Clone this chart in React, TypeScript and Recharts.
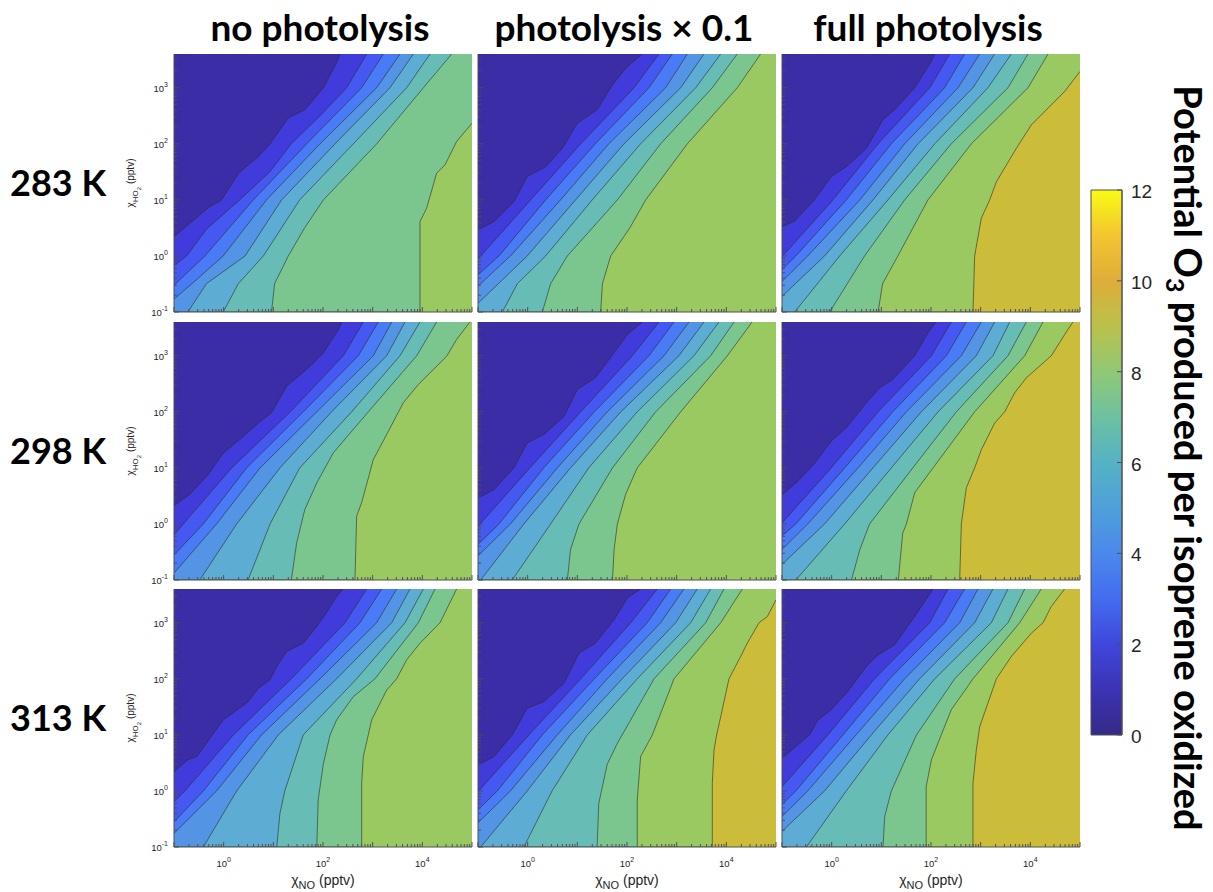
import React from "react";
import { ComposedChart, Area, XAxis, YAxis, BarChart, Bar } from "recharts";

type Bound = [number, number][];

// axes: NO mixing ratio (x) and HO2 mixing ratio (y), both in pptv
const X_DOMAIN = [0.1, 100000];
const Y_DOMAIN = [0.1, 4000];
const X_DECADES = [0.1, 1, 10, 100, 1000, 10000, 100000];
const Y_DECADES = [0.1, 1, 10, 100, 1000];
const X_LABELED = [1, 100, 10000];
const Y_LABELED = [0.1, 1, 10, 100, 1000];

const TEMPS = ["283 K", "298 K", "313 K"];
const CASES = ["no photolysis", "photolysis × 0.1", "full photolysis"];

// fill colour of each 1-unit band (0-1, 1-2, ... 9-10)
const BAND_COLORS = [
  "#3A2DA5", "#413BDB", "#4658F2", "#4A7BF6", "#5395E4",
  "#5DACD4", "#67BDB6", "#7AC68E", "#9AC962", "#CBBC3A",
];

const CBAR_TICKS = [0, 2, 4, 6, 8, 10, 12];
const CBAR_STOPS = [
  "#352A87", "#3B33B5", "#3F47DC", "#436CF0", "#4B88EC", "#4FA0DA", "#55B2C4",
  "#6DC1A1", "#91C875", "#BAC14C", "#DEAD3A", "#F3C530", "#F9FB15",
];
const CBAR_DATA = [{ name: "O3", v: 12 }];

// contour boundaries, level 1, 2, 3 ... ; points are [NO, HO2]
const T283_NONE: Bound[] = [
  [[0.1, 2.2], [0.5, 7.3], [0.91, 10], [2, 30], [5, 59], [8.6, 100], [20, 290], [43, 404], [102, 1000], [190, 2870], [220, 4000]],
  [[0.1, 0.67], [0.18, 1], [0.45, 3], [2.1, 10], [8.6, 32], [23, 100], [87, 316], [300, 1000], [760, 4000]],
  [[0.1, 0.3], [0.42, 1], [3.95, 10], [47, 100], [600, 1000], [1640, 4000]],
  [[0.1, 0.17], [0.23, 0.32], [0.98, 1], [7.3, 10], [87, 100], [1205, 1000], [3550, 4000]],
  [[0.1, 0.1], [0.19, 0.1], [0.45, 0.32], [2.7, 1], [14.7, 10], [175, 100], [2230, 1000], [6600, 4000]],
  [[0.1, 0.1], [0.98, 0.1], [1.97, 0.32], [6.3, 1], [34, 10], [408, 100], [4840, 1000], [14300, 4000]],
  [[0.1, 0.1], [9.2, 0.1], [10.6, 0.32], [20, 1], [43, 3.2], [102, 10], [1205, 100], [10500, 1000], [39000, 4000]],
  [[0.1, 0.1], [8970, 0.1], [8970, 4.1], [12200, 7.1], [19400, 30], [28600, 42], [49000, 110], [100000, 233]],
];

const T283_TENTH: Bound[] = [
  [[0.1, 2.9], [0.21, 4.1], [0.53, 9.3], [0.98, 26], [2.3, 39], [5, 83], [10, 233], [25, 404], [51, 1128], [102, 2400], [204, 4000]],
  [[0.1, 0.91], [0.113, 1], [1.15, 10], [11.7, 100], [139, 1000], [440, 4000]],
  [[0.1, 0.46], [0.265, 1], [2.3, 10], [23, 100], [277, 1000], [818, 4000]],
  [[0.1, 0.29], [0.45, 1], [4.6, 10], [43, 100], [600, 1000], [1640, 4000]],
  [[0.1, 0.143], [0.98, 1], [9.2, 10], [87, 100], [1205, 1000], [3550, 4000]],
  [[0.1, 0.1], [0.31, 0.1], [0.62, 0.32], [2.3, 1], [20, 10], [188, 100], [2420, 1000], [7700, 4000]],
  [[0.1, 0.1], [1.97, 0.1], [2.9, 0.32], [6.3, 1], [64, 10], [476, 100], [5220, 1000], [16600, 4000]],
  [[0.1, 0.1], [29.5, 0.1], [32, 0.32], [47, 1], [115, 3.2], [238, 10], [1640, 100], [16600, 1000], [49000, 4000]],
];

const T283_FULL: Bound[] = [
  [[0.1, 3.3], [0.18, 4.2], [0.45, 10], [0.98, 26], [1.97, 39], [5, 83], [10.8, 270], [18.5, 404], [47, 1000], [102, 2960], [119, 4000]],
  [[0.1, 0.97], [1.06, 10], [8.6, 100], [94, 1000], [238, 4000]],
  [[0.1, 0.57], [0.19, 1], [1.97, 10], [15.9, 100], [188, 1000], [476, 4000]],
  [[0.1, 0.35], [0.33, 1], [3.7, 10], [29.5, 100], [350, 1000], [955, 4000]],
  [[0.1, 0.19], [0.72, 1], [6.8, 10], [55, 100], [700, 1000], [1914, 4000]],
  [[0.1, 0.1], [0.18, 0.1], [1.45, 1], [13.6, 10], [119, 100], [1400, 1000], [4140, 4000]],
  [[0.1, 0.1], [0.91, 0.1], [4.6, 1], [29.5, 10], [256, 100], [3550, 1000], [8970, 4000]],
  [[0.1, 0.1], [8.6, 0.1], [10.6, 0.32], [21.5, 1], [87, 10], [649, 100], [8970, 1000], [22700, 4000]],
  [[0.1, 0.1], [700, 0.1], [757, 1], [1030, 4.7], [1520, 10], [2070, 21], [5220, 83], [10500, 218], [49000, 857], [100000, 1950]],
];

const T298_NONE: Bound[] = [
  [[0.1, 2.1], [0.21, 3.4], [0.49, 7.6], [0.98, 18.5], [2.1, 32], [5, 63], [9.2, 96], [18.5, 286], [51, 610], [102, 1128], [204, 2940], [238, 4000]],
  [[0.1, 0.64], [0.154, 1], [1.45, 10], [22, 100], [256, 1000], [649, 4000]],
  [[0.1, 0.28], [0.39, 1], [2.9, 10], [40, 100], [514, 1000], [1300, 4000]],
  [[0.1, 0.133], [0.72, 1], [5.4, 10], [75, 100], [1030, 1000], [2420, 4000]],
  [[0.1, 0.1], [0.33, 0.1], [1.83, 1], [13.6, 10], [149, 100], [1914, 1000], [4480, 4000]],
  [[0.1, 0.1], [3.1, 0.1], [8.6, 1], [34, 10], [378, 100], [3550, 1000], [8970, 4000]],
  [[0.1, 0.1], [23, 0.1], [29.5, 0.46], [43, 1.8], [75, 5.4], [161, 18.5], [818, 100], [7700, 1000], [19400, 4000]],
  [[0.1, 0.1], [440, 0.1], [476, 1.37], [600, 2.4], [1030, 14], [2070, 45], [4140, 145], [8300, 307], [31000, 984], [49000, 1950], [91000, 4000]],
];

const T298_TENTH: Bound[] = [
  [[0.1, 2.9], [0.21, 4.1], [0.53, 10], [0.98, 28], [2.1, 39], [5.4, 83], [10, 250], [23, 404], [55, 1128], [102, 2400], [204, 4000]],
  [[0.1, 0.91], [1.11, 10], [11.7, 100], [128, 1000], [440, 4000]],
  [[0.1, 0.43], [0.265, 1], [2.1, 10], [22, 100], [277, 1000], [884, 4000]],
  [[0.1, 0.27], [0.45, 1], [3.95, 10], [40, 100], [556, 1000], [1770, 4000]],
  [[0.1, 0.1], [0.113, 0.1], [0.84, 1], [7.3, 10], [75, 100], [1110, 1000], [3550, 4000]],
  [[0.1, 0.1], [0.49, 0.1], [2.9, 1], [17, 10], [161, 100], [2230, 1000], [7100, 4000]],
  [[0.1, 0.1], [6.3, 0.1], [7.3, 0.35], [10.8, 1], [51, 10], [378, 100], [4840, 1000], [14300, 4000]],
  [[0.1, 0.1], [51, 0.1], [55, 0.35], [64, 1], [94, 3.4], [161, 10], [1205, 100], [10500, 1000], [33000, 4000]],
];

const T298_FULL: Bound[] = [
  [[0.1, 3.3], [0.21, 5.8], [0.45, 12], [0.98, 30], [1.97, 52], [5, 145], [9.2, 267], [17, 377], [47, 1000], [87, 2570], [125, 4000]],
  [[0.1, 1.04], [0.98, 10], [8.6, 100], [102, 1000], [256, 4000]],
  [[0.1, 0.61], [0.19, 1], [1.83, 10], [17, 100], [204, 1000], [514, 4000]],
  [[0.1, 0.35], [0.33, 1], [3.4, 10], [32, 100], [408, 1000], [1030, 4000]],
  [[0.1, 0.19], [0.72, 1], [6.8, 10], [64, 100], [818, 1000], [1914, 4000]],
  [[0.1, 0.1], [0.19, 0.1], [1.83, 1], [15.9, 10], [139, 100], [1770, 1000], [3840, 4000]],
  [[0.1, 0.1], [2.5, 0.1], [3.7, 0.35], [5.8, 1], [43, 10], [324, 100], [3550, 1000], [8300, 4000]],
  [[0.1, 0.1], [22, 0.1], [27, 0.69], [32, 1], [47, 3.6], [110, 10], [757, 100], [7700, 1000], [18000, 4000]],
  [[0.1, 0.1], [378, 0.1], [408, 1], [514, 4.4], [757, 10], [1030, 21], [1914, 63], [3040, 100], [4840, 218], [8300, 404], [26400, 1000], [57000, 2940], [72000, 4000]],
];

const T313_NONE: Bound[] = [
  [[0.1, 2.2], [0.19, 3.6], [0.29, 4.1], [0.53, 8.7], [0.98, 18.5], [2.1, 30], [3.1, 39], [5, 68], [8.6, 96], [11.7, 166], [18.5, 307], [40, 432], [75, 857], [110, 1390], [188, 2940], [256, 4000]],
  [[0.1, 0.64], [0.166, 1], [1.57, 10], [23, 100], [277, 1000], [757, 4000]],
  [[0.1, 0.28], [0.39, 1], [3.1, 10], [47, 100], [556, 1000], [1520, 4000]],
  [[0.1, 0.175], [0.72, 1], [5.8, 10], [87, 100], [1205, 1000], [3040, 4000]],
  [[0.1, 0.1], [0.39, 0.1], [1.83, 1], [12.6, 10], [188, 100], [2420, 1000], [5650, 4000]],
  [[0.1, 0.1], [11.7, 0.1], [13.6, 0.4], [17, 1], [40, 10], [476, 100], [4480, 1000], [10500, 4000]],
  [[0.1, 0.1], [75, 0.1], [80, 0.69], [102, 3.1], [139, 10], [188, 18.5], [408, 48], [1110, 100], [8300, 1000], [18000, 4000]],
  [[0.1, 0.1], [600, 0.1], [600, 1.37], [649, 4.1], [955, 18.5], [1914, 63], [3040, 100], [4840, 218], [8970, 432], [22700, 1000], [49000, 4000]],
];

const T313_TENTH: Bound[] = [
  [[0.1, 2.9], [0.21, 4.1], [0.49, 10], [0.98, 30], [2.1, 39], [5.4, 83], [10.8, 286], [23, 432], [55, 1128], [102, 2770], [188, 4000]],
  [[0.1, 0.97], [1.06, 10], [11.7, 100], [119, 1000], [408, 4000]],
  [[0.1, 0.46], [0.245, 1], [1.97, 10], [22, 100], [256, 1000], [757, 4000]],
  [[0.1, 0.27], [0.45, 1], [3.95, 10], [40, 100], [476, 1000], [1400, 4000]],
  [[0.1, 0.1], [0.113, 0.1], [0.98, 1], [7.3, 10], [80, 100], [955, 1000], [2600, 4000]],
  [[0.1, 0.1], [0.84, 0.1], [3.1, 1], [15.9, 10], [161, 100], [1914, 1000], [4840, 4000]],
  [[0.1, 0.1], [25, 0.1], [27, 0.6], [40, 3], [64, 7.1], [80, 10], [350, 100], [3840, 1000], [8970, 4000]],
  [[0.1, 0.1], [161, 0.1], [161, 0.69], [188, 4.1], [324, 10], [884, 100], [7700, 1000], [21000, 4000]],
  [[0.1, 0.1], [5220, 0.1], [5220, 1.37], [5650, 5.4], [6380, 10], [7700, 21], [11300, 100], [19400, 250], [26400, 432], [45500, 1000], [67000, 1294], [100000, 2570]],
];

const T313_FULL: Bound[] = [
  [[0.1, 3.8], [0.19, 6.2], [0.36, 10], [0.53, 18.5], [0.98, 28], [2.1, 59], [5, 166], [8.6, 267], [18.5, 404], [47, 1294], [102, 3600], [110, 4000]],
  [[0.1, 1.19], [0.84, 10], [7.3, 100], [94, 1000], [220, 4000]],
  [[0.1, 0.57], [0.19, 1], [1.69, 10], [14.7, 100], [188, 1000], [476, 4000]],
  [[0.1, 0.35], [0.33, 1], [3.1, 10], [29.5, 100], [378, 1000], [884, 4000]],
  [[0.1, 0.19], [0.72, 1], [6.3, 10], [59, 100], [757, 1000], [1770, 4000]],
  [[0.1, 0.1], [0.31, 0.1], [1.97, 1], [13.6, 10], [119, 100], [1640, 1000], [3550, 4000]],
  [[0.1, 0.1], [10.8, 0.1], [11.7, 0.35], [15.9, 1], [51, 10], [300, 100], [3550, 1000], [7700, 4000]],
  [[0.1, 0.1], [80, 0.1], [80, 1.19], [102, 3.6], [161, 10], [256, 28], [700, 100], [6100, 1000], [16600, 4000]],
  [[0.1, 0.1], [700, 0.1], [700, 1.37], [818, 5.4], [955, 14], [2070, 100], [4140, 250], [10500, 652], [18000, 1000], [26400, 1950], [49000, 4000]],
];

const PANELS = [
  [T283_NONE, T283_TENTH, T283_FULL],
  [T298_NONE, T298_TENTH, T298_FULL],
  [T313_NONE, T313_TENTH, T313_FULL],
];

// layout
const COL_X = [174, 478, 782];
const ROW_Y = [54, 322, 589];
const PW = 298;
const PH = 258;
const AXW = 40;
const AXH = 30;
const PAD = 2;
const FRAME = "#505050";
const TXT = "#262626";

const minors = (decades: number[], max: number) =>
  decades.flatMap((d) => [2, 3, 4, 5, 6, 7, 8, 9].map((m) => m * d)).filter((v) => v < max);
const X_TICKS = [...X_DECADES, ...minors(X_DECADES, X_DOMAIN[1])].sort((a, b) => a - b);
const Y_TICKS = [...Y_DECADES, ...minors(Y_DECADES, Y_DOMAIN[1])].sort((a, b) => a - b);

function LogTick(props: any) {
  const { x, y, payload, side, show } = props;
  const v: number = payload.value;
  const e = Math.log10(v);
  const decade = Math.abs(e - Math.round(e)) < 1e-6;
  const len = decade ? 5 : 3;
  let seg = [x, y, x, y - len];
  if (side === "top") seg = [x, y, x, y + len];
  if (side === "left") seg = [x, y, x + len, y];
  if (side === "right") seg = [x, y, x - len, y];
  const list = side === "bottom" ? X_LABELED : Y_LABELED;
  const lbl = show && list.some((t) => Math.abs(t - v) < 1e-9);
  const font = { fontFamily: "Liberation Sans, Arial, sans-serif", fill: TXT };
  return (
    <g>
      <line x1={seg[0]} y1={seg[1]} x2={seg[2]} y2={seg[3]} stroke={FRAME} strokeWidth={1} />
      {lbl && side === "bottom" && (
        <text x={x} y={y + 20} textAnchor="middle" fontSize={9.5} {...font}>
          10<tspan dy={-5} fontSize={7}>{Math.round(e)}</tspan>
        </text>
      )}
      {lbl && side === "left" && (
        <text x={x - 6} y={y + 4} textAnchor="end" fontSize={9.5} {...font}>
          10<tspan dy={-5} fontSize={7}>{Math.round(e)}</tspan>
        </text>
      )}
    </g>
  );
}

function Panel({ bounds, col, row }: { bounds: Bound[]; col: number; row: number }) {
  const left = COL_X[col];
  const top = ROW_Y[row];
  const showX = row === 2;
  const showY = col === 0;
  const layers = bounds
    .map((b, i) => ({ level: i + 1, pts: b.map(([x, y]) => ({ x, y })) }))
    .reverse();
  const axisLine = { stroke: FRAME, strokeWidth: 1 };
  return (
    <>
      <div
        style={{
          position: "absolute",
          left,
          top,
          width: PW,
          height: PH,
          background: BAND_COLORS[bounds.length],
        }}
      />
      <div style={{ position: "absolute", left: left - AXW, top: top - PAD }}>
        <ComposedChart
          width={AXW + PW + PAD}
          height={PAD + PH + AXH}
          margin={{ top: PAD, right: PAD, bottom: 0, left: 0 }}
        >
          {layers.map((l) => (
            <Area
              key={l.level}
              xAxisId="b"
              yAxisId="l"
              data={l.pts}
              dataKey="y"
              type="linear"
              baseValue={Y_DOMAIN[1]}
              fill={BAND_COLORS[l.level - 1]}
              fillOpacity={1}
              stroke="#2b2b2b"
              strokeWidth={0.6}
              dot={false}
              activeDot={false}
              isAnimationActive={false}
            />
          ))}
          <XAxis
            xAxisId="b"
            dataKey="x"
            type="number"
            scale="log"
            domain={X_DOMAIN}
            allowDataOverflow
            ticks={X_TICKS}
            interval={0}
            height={AXH}
            tickSize={0}
            tickMargin={0}
            tickLine={false}
            axisLine={axisLine}
            tick={(p: any) => <LogTick {...p} side="bottom" show={showX} />}
          />
          <XAxis
            xAxisId="t"
            orientation="top"
            type="number"
            scale="log"
            domain={X_DOMAIN}
            allowDataOverflow
            ticks={X_TICKS}
            interval={0}
            height={0}
            tickSize={0}
            tickMargin={0}
            tickLine={false}
            axisLine={axisLine}
            tick={(p: any) => <LogTick {...p} side="top" show={false} />}
          />
          <YAxis
            yAxisId="l"
            type="number"
            scale="log"
            domain={Y_DOMAIN}
            allowDataOverflow
            ticks={Y_TICKS}
            interval={0}
            width={AXW}
            tickSize={0}
            tickMargin={0}
            tickLine={false}
            axisLine={axisLine}
            tick={(p: any) => <LogTick {...p} side="left" show={showY} />}
          />
          <YAxis
            yAxisId="r"
            orientation="right"
            type="number"
            scale="log"
            domain={Y_DOMAIN}
            allowDataOverflow
            ticks={Y_TICKS}
            interval={0}
            width={0}
            tickSize={0}
            tickMargin={0}
            tickLine={false}
            axisLine={axisLine}
            tick={(p: any) => <LogTick {...p} side="right" show={false} />}
          />
        </ComposedChart>
      </div>
    </>
  );
}

function CbarTick(props: any) {
  const { x, y, payload } = props;
  return (
    <g>
      <line x1={x} y1={y} x2={x - 5} y2={y} stroke={FRAME} strokeWidth={1} />
      <text x={x + 9} y={y + 8} fontSize={19} fill={TXT} fontFamily="Liberation Sans, Arial, sans-serif">
        {payload.value}
      </text>
    </g>
  );
}

function Colorbar() {
  const CB_X = 1091;
  const CB_Y = 190;
  const CB_W = 31;
  const CB_H = 545;
  const M = 16;
  return (
    <div style={{ position: "absolute", left: CB_X - PAD, top: CB_Y - M }}>
      <BarChart
        width={PAD + CB_W + 50}
        height={M + CB_H + M}
        data={CBAR_DATA}
        margin={{ top: M, right: 0, bottom: M, left: PAD }}
        barCategoryGap={0}
        barGap={0}
      >
        <defs>
          <linearGradient id="cbgrad" x1="0" y1="1" x2="0" y2="0">
            {CBAR_STOPS.map((c, i) => (
              <stop key={i} offset={`${(i / (CBAR_STOPS.length - 1)) * 100}%`} stopColor={c} />
            ))}
          </linearGradient>
        </defs>
        <XAxis dataKey="name" hide />
        <YAxis
          orientation="right"
          type="number"
          domain={[0, 12]}
          ticks={CBAR_TICKS}
          interval={0}
          width={50}
          tickSize={0}
          tickMargin={0}
          tickLine={false}
          axisLine={{ stroke: FRAME, strokeWidth: 1 }}
          tick={(p: any) => <CbarTick {...p} />}
        />
        <Bar dataKey="v" fill="url(#cbgrad)" stroke={FRAME} strokeWidth={1} isAnimationActive={false} />
      </BarChart>
    </div>
  );
}

export default function App() {
  const bold = { fontFamily: "Lato, 'Open Sans', sans-serif", fontWeight: 700, fill: "#000" };
  const thin = { fontFamily: "Liberation Sans, Arial, sans-serif", fill: TXT };
  return (
    <div
      style={{
        position: "absolute",
        left: 0,
        top: 0,
        width: 1213,
        height: 892,
        background: "#fff",
        overflow: "hidden",
      }}
    >
      {PANELS.map((rowP, r) =>
        rowP.map((bounds, c) => <Panel key={`${r}-${c}`} bounds={bounds} col={c} row={r} />)
      )}
      <Colorbar />
      <svg
        width={1213}
        height={892}
        style={{ position: "absolute", left: 0, top: 0, pointerEvents: "none" }}
      >
        {CASES.map((t, c) => (
          <text key={t} x={COL_X[c] + PW / 2 - 3} y={41} textAnchor="middle" fontSize={37} {...bold}>
            {t}
          </text>
        ))}
        {TEMPS.map((t, r) => (
          <text key={t} x={10} y={ROW_Y[r] + PH / 2 + 13} fontSize={36} {...bold}>
            {t}
          </text>
        ))}
        {TEMPS.map((t, r) => (
          <text
            key={`yl-${t}`}
            transform={`translate(134, ${ROW_Y[r] + PH / 2}) rotate(-90)`}
            textAnchor="middle"
            fontSize={10}
            {...thin}
          >
            χ<tspan dy={4} fontSize={8}>HO</tspan>
            <tspan dy={3} fontSize={6}>2</tspan>
            <tspan dy={-7} fontSize={10}> (pptv)</tspan>
          </text>
        ))}
        {CASES.map((t, c) => (
          <text key={`xl-${t}`} x={COL_X[c] + PW / 2} y={885} textAnchor="middle" fontSize={14} {...thin}>
            χ<tspan dy={4} fontSize={11}>NO</tspan>
            <tspan dy={-4} fontSize={14}> (pptv)</tspan>
          </text>
        ))}
        <text transform="translate(1174, 458) rotate(90)" textAnchor="middle" fontSize={38} {...bold}>
          Potential O<tspan dy={8} fontSize={25}>3</tspan>
          <tspan dy={-8}> produced per isoprene oxidized</tspan>
        </text>
      </svg>
    </div>
  );
}
